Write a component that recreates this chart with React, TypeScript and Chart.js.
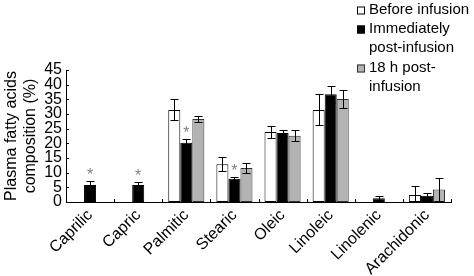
import React, { useEffect, useRef } from "react";
import { Chart, registerables } from "chart.js";

Chart.register(...registerables);

const categories = ["Caprilic", "Capric", "Palmitic", "Stearic", "Oleic", "Linoleic", "Linolenic", "Arachidonic"];
const seriesNames = ["Before infusion", "Immediately post-infusion", "18 h post-infusion"];
const beforeValues = [0, 0, 31.4, 12.9, 23.9, 31.4, 0, 2.4];
const beforeErrors = [0, 0, 3.6, 2.5, 2.0, 5.3, 0, 2.9];
const immediateValues = [5.8, 5.8, 20.2, 7.9, 23.5, 36.7, 1.3, 2.1];
const immediateErrors = [1.5, 1.1, 1.3, 0.6, 1.0, 2.8, 0.7, 1.1];
const h18Values = [0, 0, 28.3, 11.6, 22.6, 35.1, 0, 4.3];
const h18Errors = [0, 0, 1.1, 1.6, 1.9, 3.0, 0, 3.8];
const immediateSignificant = [true, true, true, true, false, false, false, false];
const yTitle = ["Plasma fatty acids", "composition (%)"];
const legendLines = [
  { box: 0, text: "Before infusion" },
  { box: 1, text: "Immediately" },
  { box: -1, text: "post-infusion" },
  { box: 2, text: "18 h post-" },
  { box: -1, text: "infusion" },
];

const FONT = "'Liberation Sans', Arial, sans-serif";
const fills = ["#ffffff", "#000000", "#b3b3b3"];
const borders = ["#000000", "#000000", "#333333"];
const errorSets = [beforeErrors, immediateErrors, h18Errors];

const decorPlugin = {
  id: "decor",
  afterDatasetsDraw(chart: any) {
    const ctx = chart.ctx;
    const y = chart.scales.y;
    ctx.save();
    ctx.strokeStyle = "#000";
    ctx.lineWidth = 1;
    chart.data.datasets.forEach((ds: any, di: number) => {
      const meta = chart.getDatasetMeta(di);
      meta.data.forEach((bar: any, i: number) => {
        const v = ds.data[i];
        const e = errorSets[di][i];
        if (!e) return;
        const x = Math.round(bar.x) + 0.5;
        const yt = Math.round(y.getPixelForValue(v + e)) + 0.5;
        const yb = Math.round(y.getPixelForValue(Math.max(0, v - e))) + 0.5;
        ctx.beginPath();
        ctx.moveTo(x, yt);
        ctx.lineTo(x, yb);
        ctx.moveTo(x - 4, yt);
        ctx.lineTo(x + 4, yt);
        ctx.moveTo(x - 4, yb);
        ctx.lineTo(x + 4, yb);
        ctx.stroke();
      });
    });
    // significance stars
    const meta1 = chart.getDatasetMeta(1);
    ctx.fillStyle = "#808080";
    ctx.font = `16px ${FONT}`;
    ctx.textAlign = "center";
    ctx.textBaseline = "alphabetic";
    immediateSignificant.forEach((s, i) => {
      if (!s) return;
      const bar = meta1.data[i];
      const top = y.getPixelForValue(immediateValues[i] + immediateErrors[i]);
      ctx.fillText("*", bar.x, top - 10 + 9);
    });
    ctx.restore();
  },
  afterDraw(chart: any) {
    const ctx = chart.ctx;
    const { left, right, bottom } = chart.chartArea;
    const y = chart.scales.y;
    ctx.save();
    ctx.strokeStyle = "#000";
    ctx.lineWidth = 1;
    ctx.beginPath();
    y.ticks.forEach((t: any) => {
      const py = Math.round(y.getPixelForValue(t.value)) + 0.5;
      ctx.moveTo(left, py);
      ctx.lineTo(left + 3, py);
    });
    const n = categories.length;
    const w = (right - left) / n;
    for (let i = 1; i <= n; i++) {
      const px = Math.round(left + i * w) + 0.5;
      ctx.moveTo(px, bottom);
      ctx.lineTo(px, bottom - 3);
    }
    ctx.stroke();
    // legend
    ctx.font = `15px ${FONT}`;
    ctx.textAlign = "left";
    ctx.textBaseline = "middle";
    const rows = [10, 29, 48, 68, 87];
    legendLines.forEach((l, i) => {
      const cy = rows[i];
      if (l.box >= 0) {
        ctx.fillStyle = fills[l.box];
        ctx.fillRect(357, cy - 3.5, 8, 8);
        ctx.strokeStyle = borders[l.box];
        ctx.strokeRect(357.5, cy - 3, 7, 7);
      }
      ctx.fillStyle = "#000";
      ctx.fillText(l.text, 369, cy);
    });
    ctx.restore();
  },
};

export default function App() {
  const ref = useRef<HTMLCanvasElement>(null);
  useEffect(() => {
    const values = [beforeValues, immediateValues, h18Values];
    const chart = new Chart(ref.current!, {
      type: "bar",
      data: {
        labels: categories,
        datasets: seriesNames.map((name, i) => ({
          label: name,
          data: values[i],
          backgroundColor: fills[i],
          borderColor: borders[i],
          borderWidth: 1,
          borderSkipped: false,
          barPercentage: 1,
          categoryPercentage: 0.75,
        })),
      },
      options: {
        responsive: false,
        animation: false,
        layout: { padding: { top: 70, right: 23, left: 0, bottom: 0 } },
        plugins: { legend: { display: false }, tooltip: { enabled: false } },
        scales: {
          x: {
            grid: { display: false, drawTicks: false },
            border: { display: true, color: "#000", width: 1 },
            ticks: {
              color: "#000",
              font: { family: FONT, size: 16 },
              minRotation: 45,
              maxRotation: 45,
              autoSkip: false,
              padding: 4,
            },
            afterFit: (s: any) => {
              s.height = 74;
            },
          },
          y: {
            min: 0,
            max: 45,
            grid: { display: false, drawTicks: false },
            border: { display: true, color: "#000", width: 1 },
            ticks: {
              stepSize: 5,
              autoSkip: false,
              color: "#000",
              font: { family: FONT, size: 16 },
              padding: 4,
            },
            title: {
              display: true,
              text: yTitle,
              color: "#000",
              font: { family: FONT, size: 16 },
              padding: { top: 2, bottom: 0 },
            },
            afterFit: (s: any) => {
              s.width = 66;
            },
          },
        },
      },
      plugins: [decorPlugin],
    });
    return () => chart.destroy();
  }, []);
  return (
    <div style={{ position: "absolute", left: 0, top: 0, width: 474, height: 276, background: "#fff" }}>
      <canvas ref={ref} width={474} height={276} />
    </div>
  );
}
